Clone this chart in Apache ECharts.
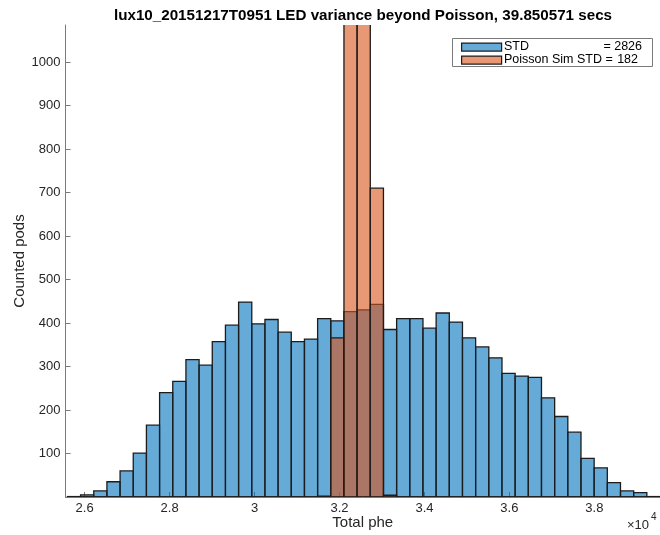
<!DOCTYPE html>
<html>
<head>
<meta charset="utf-8">
<script src="https://cdn.jsdelivr.net/npm/echarts@6/dist/echarts.min.js"></script>
<style>
  html, body { margin: 0; padding: 0; background: #fff; }
  #chart { width: 660px; height: 535px; }
</style>
</head>
<body>
<div id="chart"></div>
<script>
// Histogram of total phe per pod: measured LED counts vs. Poisson simulation
const titleText = 'lux10_20151217T0951 LED variance beyond Poisson, 39.850571 secs';
const xAxisName = 'Total phe';
const yAxisName = 'Counted pods';

// Bin layout (phe)
const binStart = 25595;
const binWidth = 310;

// Measured counts per bin
const measuredCounts = [
  1, 5, 14, 35, 60, 101, 165, 240, 266, 316,
  303, 357, 395, 448, 398, 408, 379, 357, 363, 410,
  405, 426, 430, 443, 385, 410, 410, 388, 423, 402,
  366, 345, 320, 284, 278, 275, 228, 185, 149, 89,
  67, 33, 14, 10, 1
];

// Poisson simulated counts per bin
const simCounts = [
  0, 0, 0, 0, 0, 0, 0, 0, 0, 0,
  0, 0, 0, 0, 0, 0, 0, 0, 0, 2,
  366, 4740, 5950, 710, 4, 0, 0, 0, 0, 0,
  0, 0, 0, 0, 0, 0, 0, 0, 0, 0,
  0, 0, 0, 0, 0
];

const legendNames = ['STD', 'Poisson Sim STD'];
const legendValues = [2826, 182];

const xTicks = [26000, 28000, 30000, 32000, 34000, 36000, 38000];
const yTicks = [100, 200, 300, 400, 500, 600, 700, 800, 900, 1000];
const xMin = 25550, xMax = 39545;
const yMin = 0, yMax = 1085;

const BLUE = 'rgba(0,114,189,0.6)';
const RED = 'rgba(217,83,25,0.6)';
const EDGE = '#1c1c1c';
const FONT = '"Liberation Sans", Arial, Helvetica, sans-serif';
const TEXT = '#262626';

function toBins(counts) {
  return counts.map((c, i) => [binStart + i * binWidth, binStart + (i + 1) * binWidth, c]);
}

function barRenderer(fill) {
  return function (params, api) {
    const x0 = api.value(0), x1 = api.value(1), c = api.value(2);
    const pTop = api.coord([x0, c]);
    const pBot = api.coord([x1, 0]);
    return {
      type: 'rect',
      shape: { x: pTop[0], y: pTop[1], width: pBot[0] - pTop[0], height: pBot[1] - pTop[1] },
      style: { fill: fill, stroke: EDGE, lineWidth: 1.3 }
    };
  };
}

const chart = echarts.init(document.getElementById('chart'), null, { renderer: 'canvas' });

const legX = 452, legY = 38;
const legFont = '12.5px ' + FONT;
chart.setOption({
  animation: false,
  backgroundColor: '#fff',
  textStyle: { fontFamily: FONT },
  title: {
    text: titleText,
    left: 358, top: 3, textAlign: 'center',
    textStyle: { fontFamily: FONT, fontSize: 15.2, fontWeight: 'bold', color: '#000' }
  },
  grid: { left: 65.5, right: 0, top: 25, bottom: 38, containLabel: false, outerBoundsMode: 'none' },
  xAxis: {
    type: 'value', min: xMin, max: xMax,
    name: xAxisName, nameLocation: 'middle', nameGap: 18, nameMoveOverlap: false,
    nameTextStyle: { fontFamily: FONT, fontSize: 15, color: TEXT },
    axisLine: { show: true, lineStyle: { color: '#7a7a7a', width: 1 } },
    axisTick: { show: true, inside: true, length: 5, customValues: xTicks, lineStyle: { color: '#7a7a7a' } },
    axisLabel: {
      customValues: xTicks, margin: 5,
      fontFamily: FONT, fontSize: 13, color: TEXT,
      formatter: v => String(+(v / 10000).toFixed(1))
    },
    splitLine: { show: false }
  },
  yAxis: {
    type: 'value', min: yMin, max: yMax,
    name: yAxisName, nameLocation: 'middle', nameGap: 38, nameRotate: 90, nameMoveOverlap: false,
    nameTextStyle: { fontFamily: FONT, fontSize: 15, color: TEXT },
    axisLine: { show: true, lineStyle: { color: '#7a7a7a', width: 1 } },
    axisTick: { show: true, inside: true, length: 5, customValues: yTicks, lineStyle: { color: '#7a7a7a' } },
    axisLabel: {
      customValues: yTicks, margin: 5, fontFamily: FONT, fontSize: 13, color: TEXT,
      formatter: v => String(v)
    },
    splitLine: { show: false }
  },
  series: [
    {
      name: legendNames[0], type: 'custom', clip: true,
      renderItem: barRenderer(BLUE),
      encode: { x: [0, 1], y: 2 },
      data: toBins(measuredCounts), z: 2
    },
    {
      name: legendNames[1], type: 'custom', clip: true,
      renderItem: barRenderer(RED),
      encode: { x: [0, 1], y: 2 },
      data: toBins(simCounts), z: 3
    }
  ],
  graphic: [
    {
      type: 'rect', left: legX, top: legY, z: 10,
      shape: { width: 200, height: 28 },
      style: { fill: '#fff', stroke: '#7a7a7a', lineWidth: 1 }
    },
    {
      type: 'rect', left: legX + 9, top: legY + 4.5, z: 11,
      shape: { width: 40, height: 8 },
      style: { fill: BLUE, stroke: EDGE, lineWidth: 1.2 }
    },
    {
      type: 'rect', left: legX + 9, top: legY + 17.5, z: 11,
      shape: { width: 40, height: 8 },
      style: { fill: RED, stroke: EDGE, lineWidth: 1.2 }
    },
    {
      type: 'text', x: legX + 52, y: legY + 8.5, z: 11,
      style: { text: legendNames[0], font: legFont, fill: '#000', textVerticalAlign: 'middle' }
    },
    {
      type: 'text', x: legX + 190, y: legY + 8.5, z: 11,
      style: { text: '= ' + legendValues[0], font: legFont, fill: '#000', textAlign: 'right', textVerticalAlign: 'middle' }
    },
    {
      type: 'text', x: legX + 52, y: legY + 21.5, z: 11,
      style: { text: legendNames[1] + ' =', font: legFont, fill: '#000', textVerticalAlign: 'middle' }
    },
    {
      type: 'text', x: legX + 186, y: legY + 21.5, z: 11,
      style: { text: String(legendValues[1]), font: legFont, fill: '#000', textAlign: 'right', textVerticalAlign: 'middle' }
    },
    {
      type: 'text', x: 627, y: 525, z: 11,
      style: { text: '×10', font: '13px ' + FONT, fill: TEXT, textVerticalAlign: 'middle' }
    },
    {
      type: 'text', x: 651, y: 517, z: 11,
      style: { text: '4', font: '10px ' + FONT, fill: TEXT, textVerticalAlign: 'middle' }
    }
  ]
});
</script>
</body>
</html>
